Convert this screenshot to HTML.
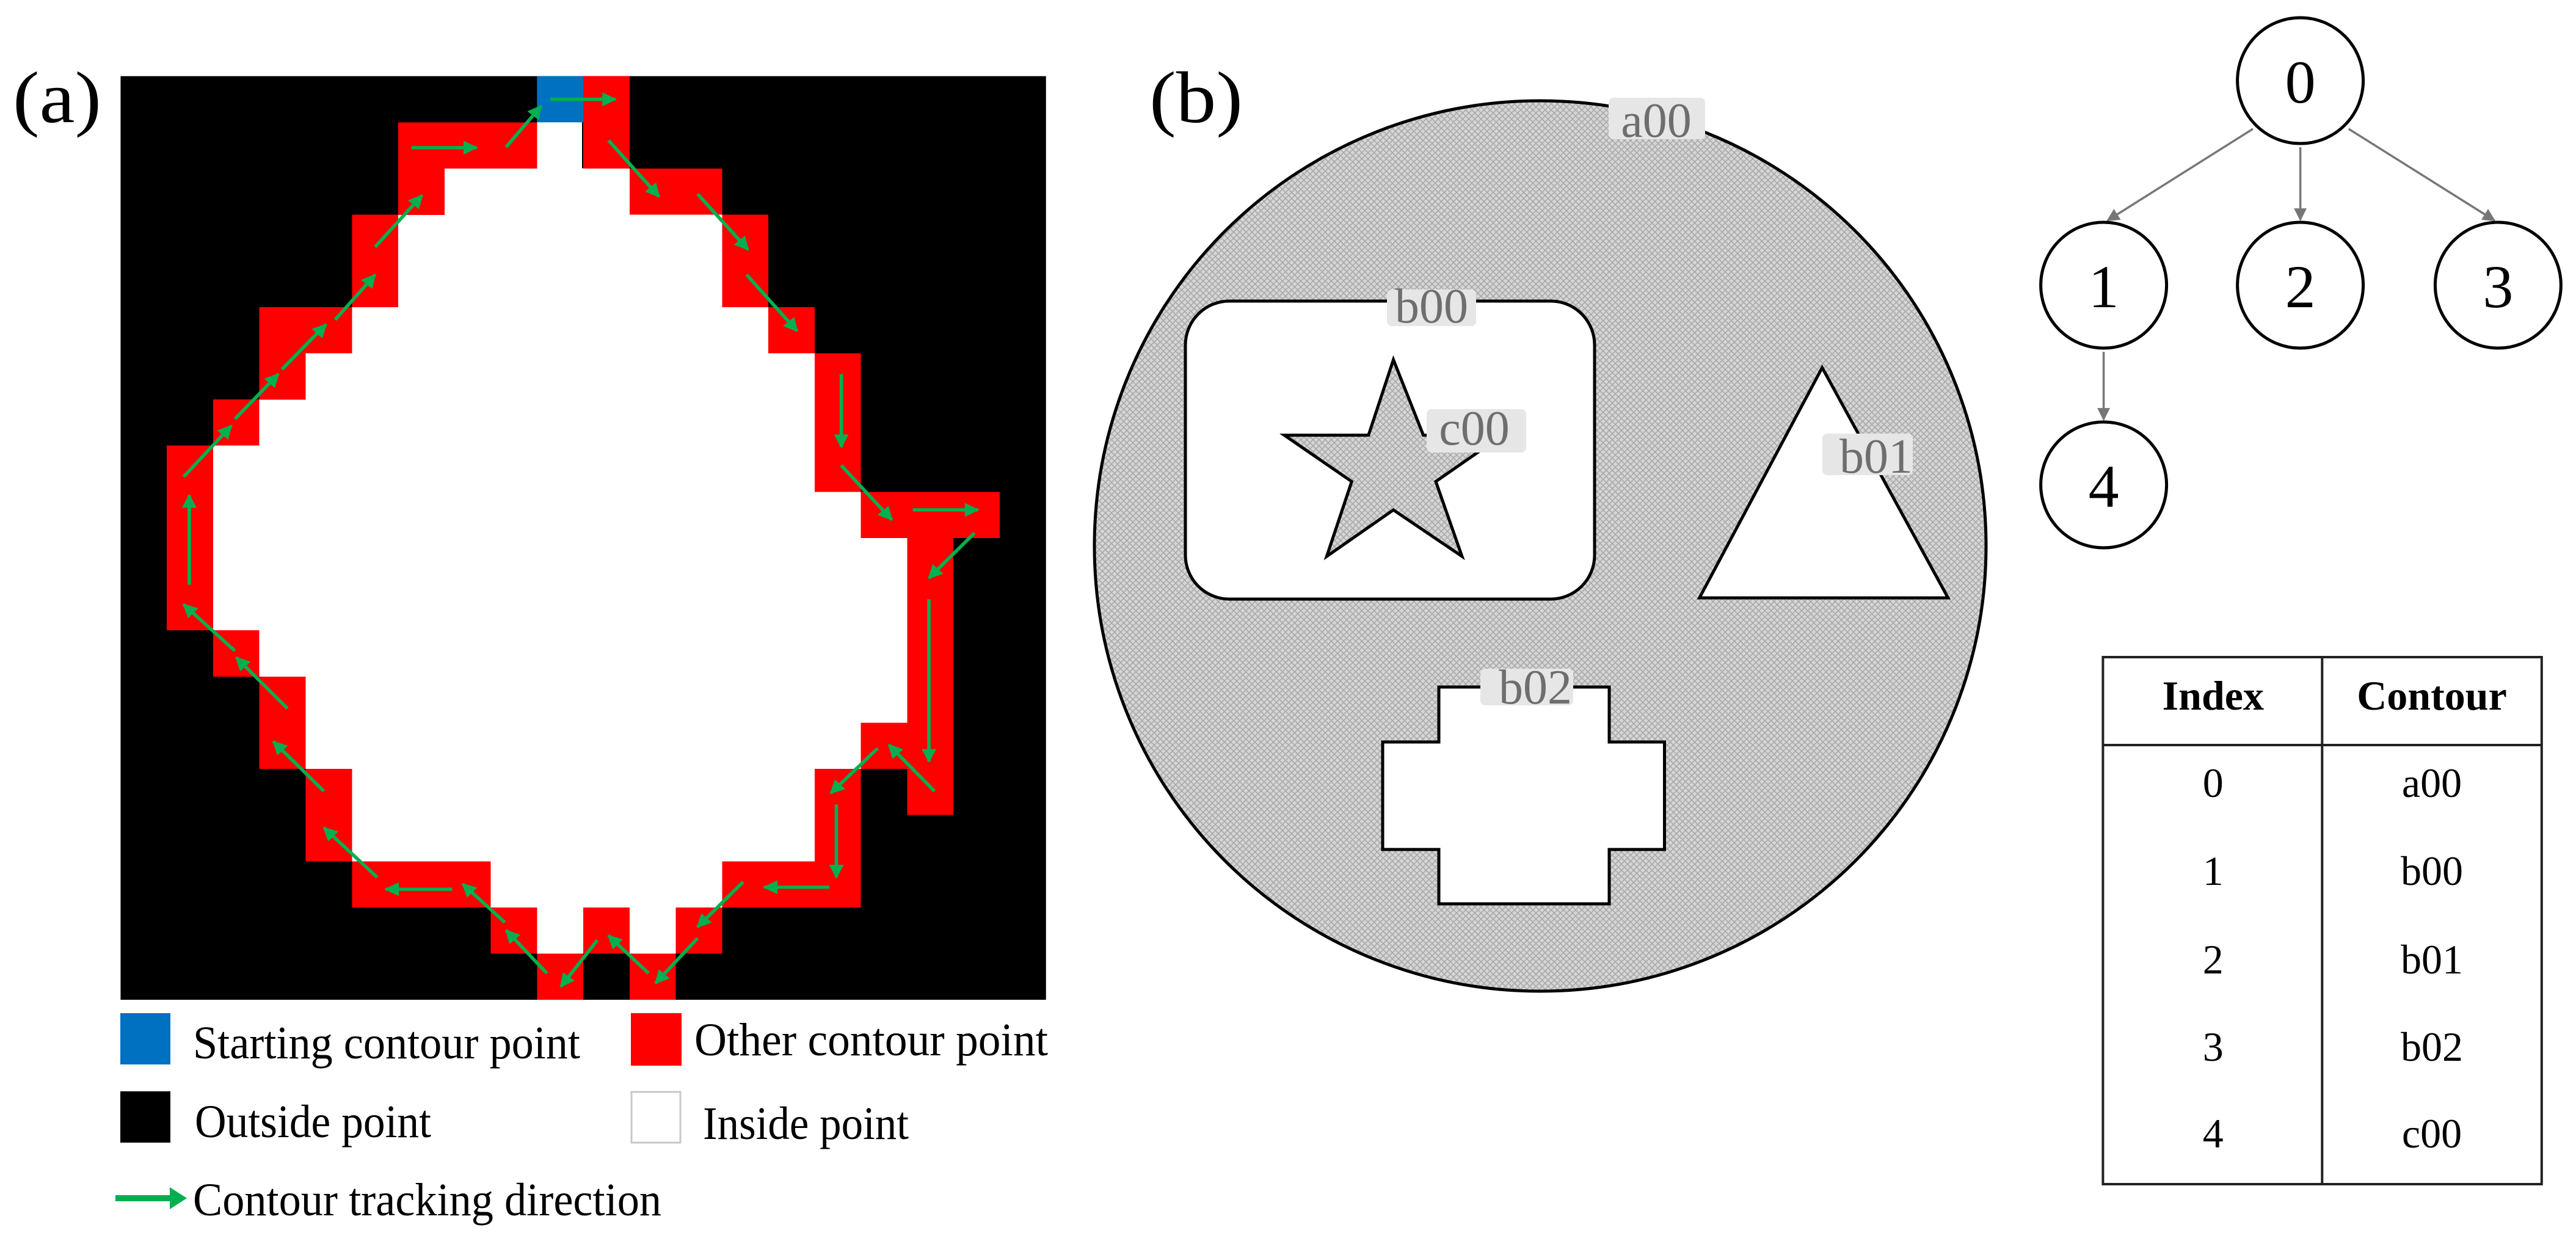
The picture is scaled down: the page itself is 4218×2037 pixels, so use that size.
<!DOCTYPE html>
<html><head><meta charset="utf-8"><style>
html,body{margin:0;padding:0;background:#fff;}
body{width:4218px;height:2037px;position:relative;overflow:hidden;}
svg{position:absolute;left:0;top:0;}
text{font-family:"Liberation Serif",serif;}
</style></head><body>
<svg width="4218" height="2037" viewBox="0 0 4218 2037">
<defs>
<pattern id="hatch" width="10" height="10" patternUnits="userSpaceOnUse">
<rect width="10" height="10" fill="#d6d6d6"/>
<path d="M0,0L10,10M10,0L0,10" stroke="#a8a8a8" stroke-width="1.6"/>
</pattern>
<marker id="ga" viewBox="0 0 10 10" refX="9" refY="5" markerWidth="4.2" markerHeight="4.2" orient="auto"><path d="M0,0L10,5L0,10z" fill="#00b050"/></marker>
<marker id="gr" viewBox="0 0 10 10" refX="9" refY="5" markerWidth="6" markerHeight="6" orient="auto"><path d="M0,0L10,5L0,10z" fill="#777"/></marker>
</defs>

<!-- Panel (a) grid -->
<svg x="0" y="0" width="1800" height="1700" viewBox="0 0 1568 1568" preserveAspectRatio="none">
<rect x="172" y="115" width="1320" height="1395" fill="#000"/>
<g fill="#fff" shape-rendering="crispEdges">
<rect x="766" y="184" width="64" height="71"/>
<rect x="634" y="254" width="264" height="71"/>
<rect x="568" y="323.5" width="462" height="141"/>
<rect x="502" y="463" width="594" height="71"/>
<rect x="436" y="533" width="726" height="71"/>
<rect x="370" y="602.5" width="792" height="71"/>
<rect x="304" y="672.5" width="858" height="71"/>
<rect x="304" y="742" width="924" height="71"/>
<rect x="304" y="812" width="990" height="141"/>
<rect x="370" y="951.5" width="924" height="71"/>
<rect x="436" y="1021" width="858" height="71"/>
<rect x="436" y="1091" width="792" height="71"/>
<rect x="502" y="1160.5" width="660" height="141"/>
<rect x="700" y="1300" width="330" height="71"/>
<rect x="766" y="1370" width="66" height="71"/>
<rect x="898" y="1370" width="66" height="71"/>
</g>
<g fill="#ff0000" shape-rendering="crispEdges">
<rect x="832" y="115" width="66" height="139.5"/>
<rect x="568" y="184.75" width="198" height="69.75"/>
<rect x="568" y="254" width="66" height="70.5"/>
<rect x="898" y="254.5" width="132" height="69.75"/>
<rect x="502" y="324.25" width="66" height="139.5"/>
<rect x="1030" y="324.25" width="66" height="139.5"/>
<rect x="370" y="463.75" width="132" height="69.75"/>
<rect x="1096" y="463.75" width="66" height="69.75"/>
<rect x="370" y="533" width="66" height="70.5"/>
<rect x="1162" y="533.5" width="66" height="209.25"/>
<rect x="304" y="603.25" width="66" height="69.75"/>
<rect x="238" y="673" width="66" height="279"/>
<rect x="1228" y="742.75" width="198" height="69.75"/>
<rect x="1294" y="812" width="66" height="419"/>
<rect x="304" y="952" width="66" height="69.75"/>
<rect x="370" y="1021.75" width="66" height="139.5"/>
<rect x="1228" y="1091.5" width="132" height="69.75"/>
<rect x="436" y="1161.25" width="66" height="139.5"/>
<rect x="1162" y="1161.25" width="66" height="139.5"/>
<rect x="502" y="1300.75" width="198" height="69.75"/>
<rect x="1030" y="1300.75" width="198" height="69.75"/>
<rect x="700" y="1370.5" width="66" height="69.75"/>
<rect x="832" y="1370.5" width="66" height="69.75"/>
<rect x="964" y="1370.5" width="66" height="69.75"/>
<rect x="766" y="1440.25" width="66" height="69.75"/>
<rect x="898" y="1440.25" width="66" height="69.75"/>
</g>
<rect x="766" y="115" width="66" height="69.75" fill="#0070c0"/>
<g stroke="#00b050" stroke-width="5" marker-end="url(#ga)" fill="none">
<line x1="785" y1="150" x2="878" y2="150"/>
<line x1="587" y1="223" x2="680" y2="223"/>
<line x1="722" y1="222" x2="772" y2="160"/>
<line x1="868" y1="212" x2="940" y2="297"/>
<line x1="995" y1="293" x2="1067" y2="377"/>
<line x1="1065" y1="415" x2="1137" y2="500"/>
<line x1="1200" y1="565" x2="1200" y2="675"/>
<line x1="1200" y1="703" x2="1272" y2="785"/>
<line x1="1302" y1="770" x2="1395" y2="770"/>
<line x1="1390" y1="805" x2="1325" y2="873"/>
<line x1="1325" y1="905" x2="1325" y2="1150"/>
<line x1="1333" y1="1195" x2="1268" y2="1125"/>
<line x1="1252" y1="1130" x2="1185" y2="1198"/>
<line x1="1193" y1="1215" x2="1193" y2="1325"/>
<line x1="1183" y1="1340" x2="1090" y2="1340"/>
<line x1="1060" y1="1332" x2="995" y2="1400"/>
<line x1="995" y1="1417" x2="935" y2="1485"/>
<line x1="925" y1="1470" x2="868" y2="1413"/>
<line x1="852" y1="1420" x2="800" y2="1490"/>
<line x1="780" y1="1470" x2="722" y2="1405"/>
<line x1="720" y1="1393" x2="660" y2="1335"/>
<line x1="645" y1="1343" x2="550" y2="1343"/>
<line x1="538" y1="1325" x2="462" y2="1250"/>
<line x1="462" y1="1195" x2="390" y2="1120"/>
<line x1="410" y1="1070" x2="337" y2="993"/>
<line x1="335" y1="983" x2="262" y2="913"/>
<line x1="270" y1="883" x2="270" y2="748"/>
<line x1="262" y1="720" x2="330" y2="643"/>
<line x1="335" y1="633" x2="397" y2="565"/>
<line x1="402" y1="558" x2="465" y2="490"/>
<line x1="478" y1="483" x2="535" y2="415"/>
<line x1="535" y1="373" x2="602" y2="295"/>
</g>
</svg>

<text x="21" y="200" font-size="120" textLength="145" lengthAdjust="spacingAndGlyphs">(a)</text>

<!-- legend -->
<rect x="197" y="1659" width="82" height="84" fill="#0070c0"/>
<rect x="1033" y="1659" width="83" height="86" fill="#ff0000"/>
<rect x="197" y="1787" width="82" height="84" fill="#000"/>
<rect x="1034" y="1788" width="80" height="83" fill="#fff" stroke="#c8c8c8" stroke-width="3"/>
<g font-size="76" fill="#000">
<text x="316" y="1733" textLength="634" lengthAdjust="spacingAndGlyphs">Starting contour point</text>
<text x="1137" y="1728" textLength="579" lengthAdjust="spacingAndGlyphs">Other contour point</text>
<text x="319" y="1862" textLength="387" lengthAdjust="spacingAndGlyphs">Outside point</text>
<text x="1151" y="1865" textLength="337" lengthAdjust="spacingAndGlyphs">Inside point</text>
<text x="316" y="1990" textLength="767" lengthAdjust="spacingAndGlyphs">Contour tracking direction</text>
</g>
<line x1="189" y1="1962" x2="282" y2="1962" stroke="#00b050" stroke-width="10"/>
<path d="M278,1944 L306,1962 L278,1980z" fill="#00b050"/>

<!-- Panel (b) -->
<text x="1882" y="200" font-size="120" textLength="153" lengthAdjust="spacingAndGlyphs">(b)</text>
<ellipse cx="2522" cy="894" rx="730" ry="729" fill="url(#hatch)" stroke="#000" stroke-width="5"/>
<rect x="1941" y="493" width="670" height="488" rx="72" ry="72" fill="#fff" stroke="#000" stroke-width="5"/>
<polygon points="2281.6,589 2330.6,712.6 2460.2,712.6 2351,788.5 2393.9,911 2281.6,835 2172.4,911 2213.3,788.5 2103,712.6 2240.8,712.6" fill="url(#hatch)" stroke="#000" stroke-width="5" stroke-linejoin="miter"/>
<polygon points="2983.7,602 2782.7,979 3189.8,979" fill="#fff" stroke="#000" stroke-width="5"/>
<polygon points="2356,1125 2635,1125 2635,1215 2725.5,1215 2725.5,1391 2635,1391 2635,1480 2356,1480 2356,1391 2264,1391 2264,1215 2356,1215" fill="#fff" stroke="#000" stroke-width="5"/>
<g fill="#e6e6e6">
<rect x="2634" y="160" width="158" height="68" rx="8"/>
<rect x="2271" y="474" width="146" height="60" rx="8"/>
<rect x="2336" y="670" width="163" height="71" rx="8"/>
<rect x="2984" y="710" width="148" height="68" rx="8"/>
<rect x="2424" y="1095" width="152" height="60" rx="8"/>
</g>
<g font-size="80" fill="#6e6e6e" text-anchor="middle">
<text x="2712" y="224">a00</text>
<text x="2344" y="528">b00</text>
<text x="2414" y="728">c00</text>
<text x="3072" y="774">b01</text>
<text x="2514" y="1152">b02</text>
</g>

<!-- Tree -->
<g stroke="#777" stroke-width="3.5" marker-end="url(#gr)">
<line x1="3689" y1="211" x2="3451" y2="361"/>
<line x1="3766.6" y1="241" x2="3766.6" y2="360"/>
<line x1="3845.7" y1="211" x2="4084.5" y2="361"/>
<line x1="3444.6" y1="576" x2="3444.6" y2="687"/>
</g>
<g fill="#fff" stroke="#000" stroke-width="5">
<circle cx="3766.6" cy="132" r="103"/>
<circle cx="3444.6" cy="467" r="103"/>
<circle cx="3766.6" cy="467" r="103"/>
<circle cx="4090.4" cy="467" r="103"/>
<circle cx="3444.6" cy="794" r="103"/>
</g>
<g font-size="100" text-anchor="middle" fill="#000">
<text x="3766.6" y="168">0</text>
<text x="3444.6" y="503">1</text>
<text x="3766.6" y="503">2</text>
<text x="4090.4" y="503">3</text>
<text x="3444.6" y="830">4</text>
</g>

<!-- Table -->
<g stroke="#222" stroke-width="4" fill="none">
<rect x="3443.4" y="1076" width="718.4" height="863"/>
<line x1="3802.3" y1="1076" x2="3802.3" y2="1939"/>
<line x1="3443.4" y1="1220" x2="4161.8" y2="1220"/>
</g>
<g font-size="68" text-anchor="middle" fill="#000">
<text x="3623.8" y="1162" font-weight="bold">Index</text>
<text x="3982" y="1162" font-weight="bold">Contour</text>
<text x="3623.8" y="1305">0</text><text x="3982" y="1305">a00</text>
<text x="3623.8" y="1449">1</text><text x="3982" y="1449">b00</text>
<text x="3623.8" y="1594">2</text><text x="3982" y="1594">b01</text>
<text x="3623.8" y="1737">3</text><text x="3982" y="1737">b02</text>
<text x="3623.8" y="1879">4</text><text x="3982" y="1879">c00</text>
</g>
</svg>
</body></html>
